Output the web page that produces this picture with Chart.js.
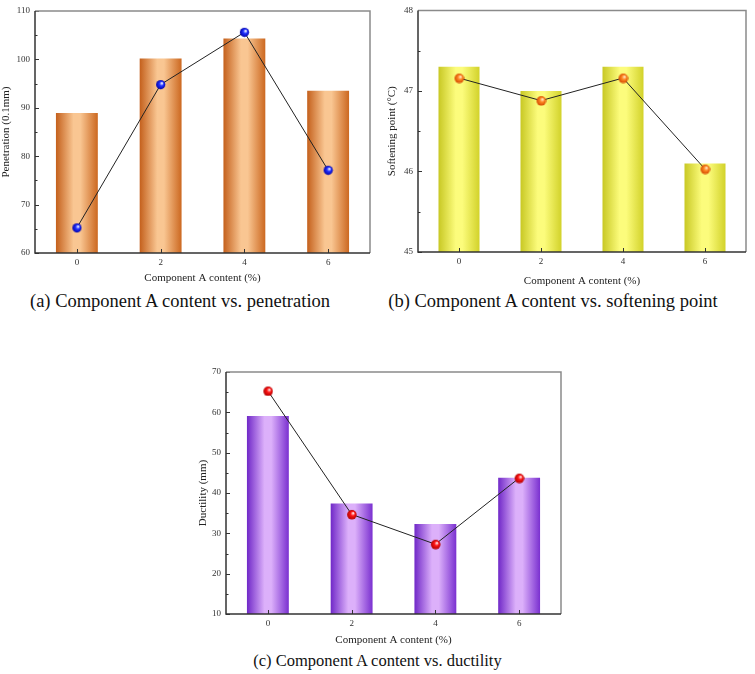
<!DOCTYPE html>
<html>
<head>
<meta charset="utf-8">
<script src="https://cdn.jsdelivr.net/npm/chart.js@4.4.1/dist/chart.umd.min.js"></script>
<style>
  body { margin: 0; background: #fff; width: 755px; height: 674px; position: relative; overflow: hidden; font-family: "Liberation Serif", "Times New Roman", serif; }
  .panel { position: absolute; }
  .panel canvas { display: block; }
  .caption { position: absolute; font-size: 16.5px; color: #111; white-space: nowrap; transform: translate(-50%, -50%); }
  .caption.big { font-size: 18.5px; }
</style>
</head>
<body>
<div class="panel" style="left:0;top:0"><canvas id="chartA" width="378" height="288"></canvas></div>
<div class="panel" style="left:378px;top:0"><canvas id="chartB" width="377" height="288"></canvas></div>
<div class="panel" style="left:188px;top:330px"><canvas id="chartC" width="380" height="320"></canvas></div>
<div class="caption big" style="left:180px;top:301px">(a) Component A content vs. penetration</div>
<div class="caption big" style="left:553px;top:301px">(b) Component A content vs. softening point</div>
<div class="caption" style="left:377.5px;top:661px">(c) Component A content vs. ductility</div>
<script>
// x categories shared by all three panels
const contentLabels = ["0", "2", "4", "6"];

// (a) penetration
const penetrationBars = [88.9, 100.2, 104.3, 93.5];
const penetrationPoints = [65.2, 94.8, 105.6, 77.1];
const penetrationTicks = [60, 110, 10]; // min, max, step

// (b) softening point
const softeningBars = [47.3, 47.0, 47.3, 46.1];
const softeningPoints = [47.16, 46.88, 47.16, 46.03];
const softeningTicks = [45, 48, 1];

// (c) ductility
const ductilityBars = [59.1, 37.4, 32.3, 43.8];
const ductilityPoints = [65.3, 34.7, 27.3, 43.7];
const ductilityTicks = [10, 70, 10];

const serif = "'Liberation Serif', 'Times New Roman', serif";

// shaded ball used as point marker
const makeSphere = (r, light, mid, dark) => {
  const c = document.createElement("canvas");
  const s = r * 2 + 2;
  c.width = c.height = s;
  const g = c.getContext("2d");
  const cx = s / 2;
  const grad = g.createRadialGradient(cx + r * 0.3, cx - r * 0.35, r * 0.1, cx, cx, r);
  grad.addColorStop(0, light);
  grad.addColorStop(0.4, mid);
  grad.addColorStop(1, dark);
  g.fillStyle = grad;
  g.beginPath();
  g.arc(cx, cx, r, 0, Math.PI * 2);
  g.fill();
  return c;
};

// horizontal gradient across each bar: dark edges, light middle
const barFill = (stops) => (c) => {
  const chart = c.chart;
  const area = chart.chartArea;
  if (!area || c.type !== "data") return stops[0];
  const cx = chart.scales.x.getPixelForValue(c.dataIndex);
  const half = (area.width / contentLabels.length) * 0.25;
  const g = chart.ctx.createLinearGradient(cx - half, 0, cx + half, 0);
  g.addColorStop(0, stops[0]);
  g.addColorStop(0.42, stops[1]);
  g.addColorStop(0.58, stops[1]);
  g.addColorStop(1, stops[2]);
  return g;
};

// frame box and inward tick marks
const frameTicks = {
  id: "frameTicks",
  afterDatasetsDraw(chart) {
    const { ctx, chartArea: a, scales: { x, y } } = chart;
    ctx.save();
    ctx.lineWidth = 1;
    ctx.strokeStyle = "#333";
    ctx.beginPath();
    const ticks = y.ticks;
    ticks.forEach((t, i) => {
      const py = Math.round(y.getPixelForValue(t.value)) + 0.5;
      ctx.moveTo(a.left, py);
      ctx.lineTo(a.left + 4, py);
      if (i < ticks.length - 1) {
        const my = Math.round(y.getPixelForValue((t.value + ticks[i + 1].value) / 2)) + 0.5;
        ctx.moveTo(a.left, my);
        ctx.lineTo(a.left + 2.5, my);
      }
    });
    x.ticks.forEach((t, i) => {
      const px = Math.round(x.getPixelForTick(i)) + 0.5;
      ctx.moveTo(px, a.bottom);
      ctx.lineTo(px, a.bottom - 4);
    });
    ctx.stroke();
    ctx.lineWidth = 1.5;
    ctx.strokeStyle = "#8a8a8a";
    ctx.beginPath();
    ctx.moveTo(a.left, a.top);
    ctx.lineTo(a.right, a.top);
    ctx.lineTo(a.right, a.bottom);
    ctx.stroke();
    ctx.strokeStyle = "#333";
    ctx.beginPath();
    ctx.moveTo(a.left, a.top);
    ctx.lineTo(a.left, a.bottom);
    ctx.lineTo(a.right, a.bottom);
    ctx.stroke();
    ctx.restore();
  },
};

const buildChart = (id, bars, points, range, stops, marker, yTitle, geo) => {
  new Chart(document.getElementById(id), {
    type: "bar",
    data: {
      labels: contentLabels,
      datasets: [
        {
          type: "line",
          data: points,
          order: 0,
          borderColor: "#222",
          borderWidth: 1,
          pointStyle: marker,
          pointRadius: 5,
          clip: false,
        },
        {
          data: bars,
          order: 1,
          backgroundColor: barFill(stops),
          borderWidth: 0,
          barPercentage: 0.5,
          categoryPercentage: 1,
        },
      ],
    },
    options: {
      responsive: false,
      animation: false,
      layout: { padding: { top: geo.top, right: geo.right, left: 0, bottom: 0 } },
      plugins: { legend: { display: false }, tooltip: { enabled: false } },
      scales: {
        x: {
          grid: { display: false, drawTicks: false },
          border: { display: false },
          ticks: { color: "#333", font: { family: serif, size: 9 }, padding: 4 },
          title: {
            display: true,
            text: "Component A content (%)",
            color: "#222",
            font: { family: serif, size: 11 },
            padding: { top: 0, bottom: geo.xTitlePad },
          },
          afterFit: (s) => { s.height = geo.xHeight; },
        },
        y: {
          min: range[0],
          max: range[1],
          grid: { display: false, drawTicks: false },
          border: { display: false },
          ticks: { stepSize: range[2], color: "#333", font: { family: serif, size: 9 }, padding: 5 },
          title: {
            display: true,
            text: yTitle,
            color: "#222",
            font: { family: serif, size: 11 },
            padding: { top: geo.yTitlePad, bottom: 0 },
          },
          afterFit: (s) => { s.width = geo.yWidth; },
        },
      },
    },
    plugins: [frameTicks],
  });
};

buildChart(
  "chartA", penetrationBars, penetrationPoints, penetrationTicks,
  ["#C4601C", "#F9C692", "#CC6820"],
  makeSphere(4.6, "#EEF2FF", "#2233FF", "#0000A8"),
  "Penetration (0.1mm)",
  { top: 11, right: 8, yWidth: 35, xHeight: 35, xTitlePad: 3.4, yTitlePad: 0 }
);

buildChart(
  "chartB", softeningBars, softeningPoints, softeningTicks,
  ["#C8C824", "#FCFC7C", "#D2D22A"],
  makeSphere(4.8, "#FFE6C0", "#FF8A24", "#D44800"),
  "Softening point (°C)",
  { top: 6, right: 9, yWidth: 40, xHeight: 36, xTitlePad: 0.4, yTitlePad: 7.4 }
);

buildChart(
  "chartC", ductilityBars, ductilityPoints, ductilityTicks,
  ["#7028C8", "#DCB0FA", "#7A30D0"],
  makeSphere(4.8, "#FFE0E0", "#FF1414", "#B00000"),
  "Ductility (mm)",
  { top: 42, right: 7, yWidth: 38, xHeight: 36, xTitlePad: 3.4, yTitlePad: 8.4 }
);
</script>
</body>
</html>
